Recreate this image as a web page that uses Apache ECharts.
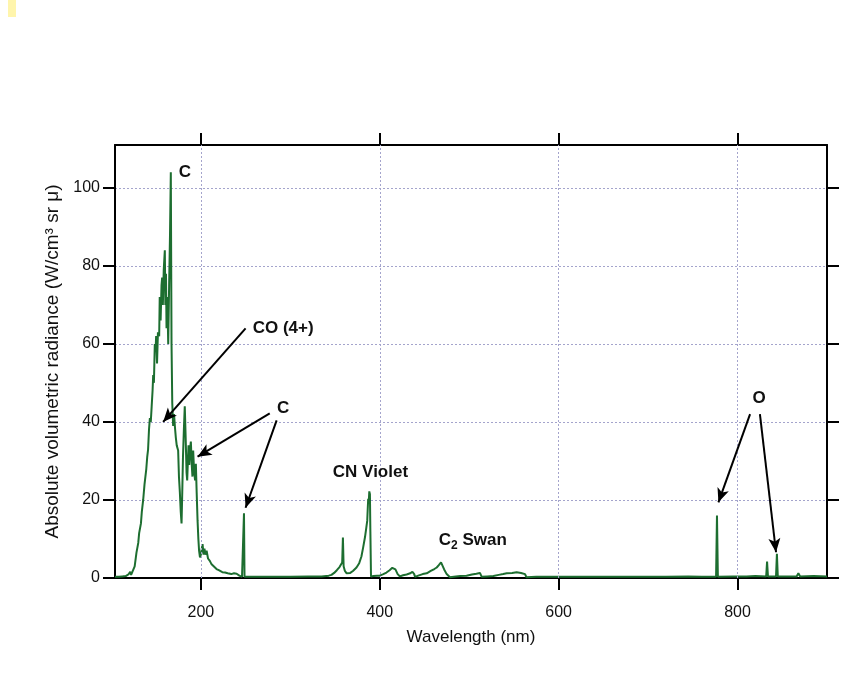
<!DOCTYPE html>
<html>
<head>
<meta charset="utf-8">
<script src="https://cdn.jsdelivr.net/npm/echarts@6/dist/echarts.min.js"></script>
<style>
    html, body {margin: 0; padding: 0; background: #fff;}
    #chart {width: 861px; height: 692px;}
</style>
</head>
<body>
<div id="chart"></div>
<script>
// spectrum (nm, W/cm3 sr um)
const wavelength = [
    104, 108, 112, 116, 119, 121, 122, 124, 126, 128, 130, 131, 133, 134, 135.5, 137, 139, 140, 141, 142,
    143, 144, 145, 146, 146.7, 147.5, 148.5, 149.3, 150, 151, 152, 153.4, 154, 155, 156, 156.7, 157.5, 158.5, 159.7, 160.3,
    161, 161.6, 162.5, 163.5, 164.5, 165.5, 166.4, 167.2, 168, 169, 170, 171, 172, 173, 174.6, 175.5, 176.5, 177.5, 178.4, 179.2,
    180, 181, 182, 183, 184, 184.7, 185.5, 186.2, 187, 188, 188.8, 189.8, 190.6, 191.4, 192.3, 193.5, 194.4, 195.3, 196.3, 197.2,
    198, 199, 200, 201, 201.9, 203, 204, 205, 206.4, 208, 210, 212, 214, 217.5, 220, 224, 227, 230, 234, 237,
    240, 243, 246, 247.6, 248.2, 248.8, 250, 260, 280, 300, 320, 335, 343, 346, 349, 352, 355, 356.6, 358, 358.8,
    359.6, 361, 363, 364.8, 367, 370, 374, 377, 379.5, 381.5, 383.5, 385, 386, 386.6, 387.1, 387.6, 388.3, 389, 389.5, 390.2,
    393, 397, 400, 404, 407.5, 411, 414, 416, 417.5, 420, 422.6, 426, 430, 434, 436.5, 437.5, 438.5, 439.4, 443, 448,
    452.5, 457, 461, 463.7, 466, 468.5, 470, 472, 474.8, 477, 478.5, 485, 490, 497, 503, 508, 512, 513, 514, 520,
    527, 533, 538, 542, 548, 553, 558, 562.4, 563.5, 564, 575, 590, 591, 592, 610, 630, 655, 656.3, 657.5, 680,
    700, 720, 745, 760, 776, 777, 778, 795, 810, 820, 832, 833, 834, 843, 844, 845, 866, 868, 870, 885,
    900
];
const radiance = [
    0.3, 0.3, 0.4, 0.5, 0.9, 1.6, 0.8, 1.2, 3, 6.5, 9, 11.5, 14, 17, 20, 24, 28, 31, 33, 38,
    41, 40, 44, 48, 52, 50, 60, 58, 62, 55, 63, 62, 72, 66, 75, 77, 70, 79, 84, 70,
    78, 64, 72, 60, 75, 88, 104, 60, 45, 39, 42, 38.7, 36, 34, 32.7, 26, 22, 17, 14, 22,
    31, 38, 44, 36, 27, 25, 30, 34, 29, 33, 35, 29, 26, 32.7, 28, 25, 29.3, 22, 14.7, 10,
    7, 5.3, 6, 7.5, 8.7, 6, 7.5, 6, 7, 5, 4.4, 3.5, 3, 2.3, 2, 1.5, 1.4, 1.2, 1.0, 1.2,
    1.1, 0.6, 0.3, 0.3, 16.6, 0.3, 0.3, 0.3, 0.35, 0.3, 0.4, 0.4, 0.6, 0.8, 1.3, 2, 2.8, 3.3, 4, 10.4,
    3, 1.8, 1.2, 1, 1.3, 1.8, 2.7, 3.8, 5.5, 7.9, 10.5, 13, 14.7, 18, 20.3, 19, 22.2, 21.5, 12, 0.4,
    0.5, 0.6, 0.6, 1, 1.4, 2, 2.6, 3, 2.2, 1, 0.4, 0.7, 0.9, 1.2, 1.6, 2.0, 1.0, 0.3, 0.6, 1,
    1.2, 1.8, 2.3, 2.7, 3.3, 4, 3.5, 2.2, 1, 0.5, 0.2, 0.4, 0.5, 0.6, 0.9, 1.1, 1.3, 1.4, 0.3, 0.4,
    0.5, 0.8, 1.0, 1.2, 1.3, 1.5, 1.3, 1, 1.1, 0.2, 0.3, 0.3, 0.7, 0.3, 0.3, 0.35, 0.3, 0.8, 0.3, 0.3,
    0.35, 0.3, 0.4, 0.3, 0.3, 16, 0.3, 0.4, 0.4, 0.5, 0.4, 4.2, 0.4, 0.4, 6.2, 0.4, 0.4, 1.2, 0.4, 0.5,
    0.4
];

const xTicks = [200, 400, 600, 800];
const yTicks = [0, 20, 40, 60, 80, 100];

// annotation labels (data coords)
const annotText = ['C', 'CO (4+)', 'C', 'CN Violet', '{a|C}{s|2}{a| Swan}', 'O'];
const annotX = [182, 292, 292, 389.6, 504, 824];
const annotY = [104, 64, 43.5, 27, 9.6, 46];

// arrows: [fromX, fromY, toX, toY]
const arrows = [
    [250, 64, 157.8, 40],
    [277, 42.2, 196.3, 31.1],
    [284.7, 40.4, 250, 18],
    [814, 42, 778.6, 19.4],
    [825, 42, 843, 6.6]
];

const font = "'Liberation Sans', Arial, Helvetica, sans-serif";

const chartDom = document.getElementById('chart');
const myChart = echarts.init(chartDom, null, {renderer: 'canvas'});

const spectrum = wavelength.map((w, i) => [w, radiance[i]]);

const frameLine = {show: true, onZero: false, lineStyle: {color: '#000', width: 2}};
const outTick = {show: true, inside: false, length: 12, lineStyle: {color: '#000', width: 2}};

const option = {
    animation: false,
    backgroundColor: '#fff',
    graphic: [
        {
            type: 'rect',
            shape: {x: 8, y: 0, width: 8, height: 17},
            style: {fill: 'rgba(255, 235, 90, 0.5)'}
        }
    ],
    grid: {left: 115, right: 34, top: 145, bottom: 114},
    xAxis: [
        {
            type: 'value',
            min: 104,
            max: 900,
            position: 'bottom',
            name: 'Wavelength (nm)',
            nameLocation: 'middle',
            nameGap: 51,
            nameTextStyle: {color: '#111', fontSize: 17, fontFamily: font},
            axisLine: frameLine,
            axisTick: {...outTick, customValues: xTicks},
            axisLabel: {color: '#111', fontSize: 16, fontFamily: font, margin: 27, customValues: xTicks},
            splitLine: {show: false}
        },
        {
            type: 'value',
            min: 104,
            max: 900,
            position: 'top',
            axisLine: frameLine,
            axisTick: {...outTick, customValues: xTicks},
            axisLabel: {show: false, customValues: xTicks},
            splitLine: {show: false}
        }
    ],
    yAxis: [
        {
            type: 'value',
            min: 0,
            max: 111,
            interval: 20,
            position: 'left',
            name: 'Absolute volumetric radiance (W/cm³ sr μ)',
            nameLocation: 'middle',
            nameGap: 42,
            nameTextStyle: {color: '#111', fontSize: 19, fontFamily: font},
            axisLine: frameLine,
            axisTick: {...outTick, customValues: yTicks},
            axisLabel: {color: '#111', fontSize: 16, fontFamily: font, margin: 15, customValues: yTicks},
            splitLine: {show: true, lineStyle: {color: '#a4a4cc', type: [2, 2], width: 1}}
        },
        {
            type: 'value',
            min: 0,
            max: 111,
            interval: 20,
            position: 'right',
            axisLine: frameLine,
            axisTick: {...outTick, customValues: yTicks},
            axisLabel: {show: false, customValues: yTicks},
            splitLine: {show: false}
        }
    ],
    series: [
        {
            // vertical dotted grid at x ticks
            type: 'line',
            data: [],
            markLine: {
                silent: true,
                symbol: 'none',
                label: {show: false},
                lineStyle: {color: '#a4a4cc', type: [2, 2], width: 1},
                data: xTicks.map(v => ({xAxis: v}))
            }
        },
        {
            name: 'spectrum',
            type: 'line',
            data: spectrum,
            showSymbol: false,
            sampling: 'none',
            lineStyle: {color: '#1d6e30', width: 2},
            itemStyle: {color: '#1d6e30'},
            markLine: {
                silent: true,
                symbol: ['none', 'arrow'],
                symbolSize: [9, 14],
                label: {show: false},
                lineStyle: {color: '#000', width: 2, type: 'solid'},
                data: arrows.map(a => [{coord: [a[0], a[1]]}, {coord: [a[2], a[3]]}])
            },
            markPoint: {
                silent: true,
                symbol: 'circle',
                symbolSize: 0,
                label: {
                    show: true,
                    position: 'inside',
                    color: '#111',
                    fontSize: 17,
                    fontWeight: 'bold',
                    fontFamily: font,
                    formatter: p => p.name,
                    rich: {
                        a: {fontSize: 17, fontWeight: 'bold', fontFamily: font, color: '#111'},
                        s: {fontSize: 12, fontWeight: 'bold', fontFamily: font, color: '#111', padding: [10, 0, 0, 0]}
                    }
                },
                data: annotText.map((t, i) => ({name: t, coord: [annotX[i], annotY[i]]}))
            }
        }
    ]
};

option && myChart.setOption(option);
</script>
</body>
</html>
